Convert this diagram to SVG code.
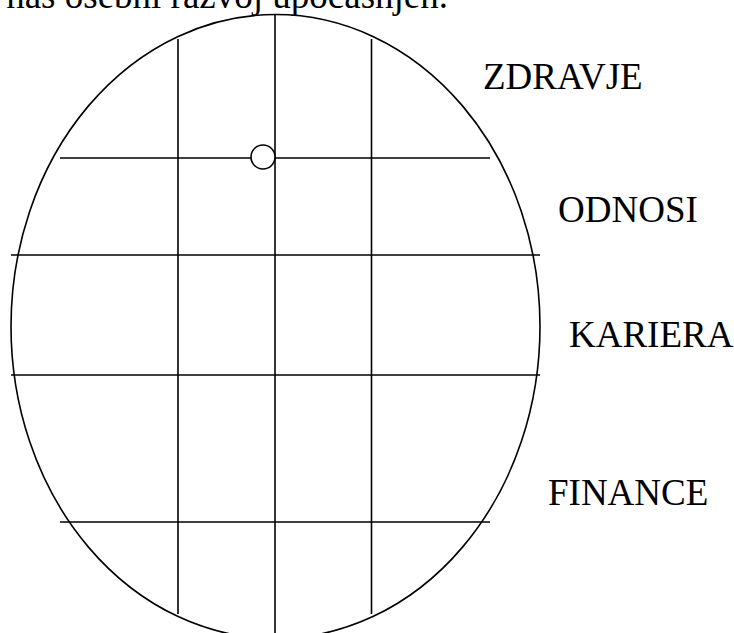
<svg xmlns="http://www.w3.org/2000/svg" width="734" height="633" viewBox="0 0 734 633">
<style>
.ln{stroke:#000;stroke-width:1.6;fill:none}
.lbl{font-family:"Liberation Serif","Times New Roman",serif;font-size:37px;fill:#000}
</style>
<rect width="734" height="633" fill="#fff"/>
<text class="lbl" x="448" y="8" text-anchor="end">nas osebni razvoj upočasnjen.</text>
<g id="oval">
<ellipse class="ln" cx="275.5" cy="326.5" rx="264.5" ry="312"/>
</g>
<g id="connectors">
<line class="ln" x1="60" y1="158" x2="490" y2="158"/>
<line class="ln" x1="11" y1="255" x2="540" y2="255"/>
<line class="ln" x1="11" y1="375" x2="540" y2="375"/>
<line class="ln" x1="60" y1="522" x2="490" y2="522"/>
<line class="ln" x1="178" y1="39" x2="178" y2="614"/>
<line class="ln" x1="275" y1="14" x2="275" y2="633"/>
<line class="ln" x1="371.5" y1="39" x2="371.5" y2="614"/>
</g>
<g id="marker">
<circle cx="263" cy="157" r="12" fill="#fff" stroke="#000" stroke-width="1.6"/>
</g>
<g id="zdravje"><text class="lbl" x="483" y="89">ZDRAVJE</text></g>
<g id="odnosi"><text class="lbl" x="558" y="222">ODNOSI</text></g>
<g id="kariera"><text class="lbl" x="569" y="347">KARIERA</text></g>
<g id="finance"><text class="lbl" x="548" y="505">FINANCE</text></g>
</svg>
